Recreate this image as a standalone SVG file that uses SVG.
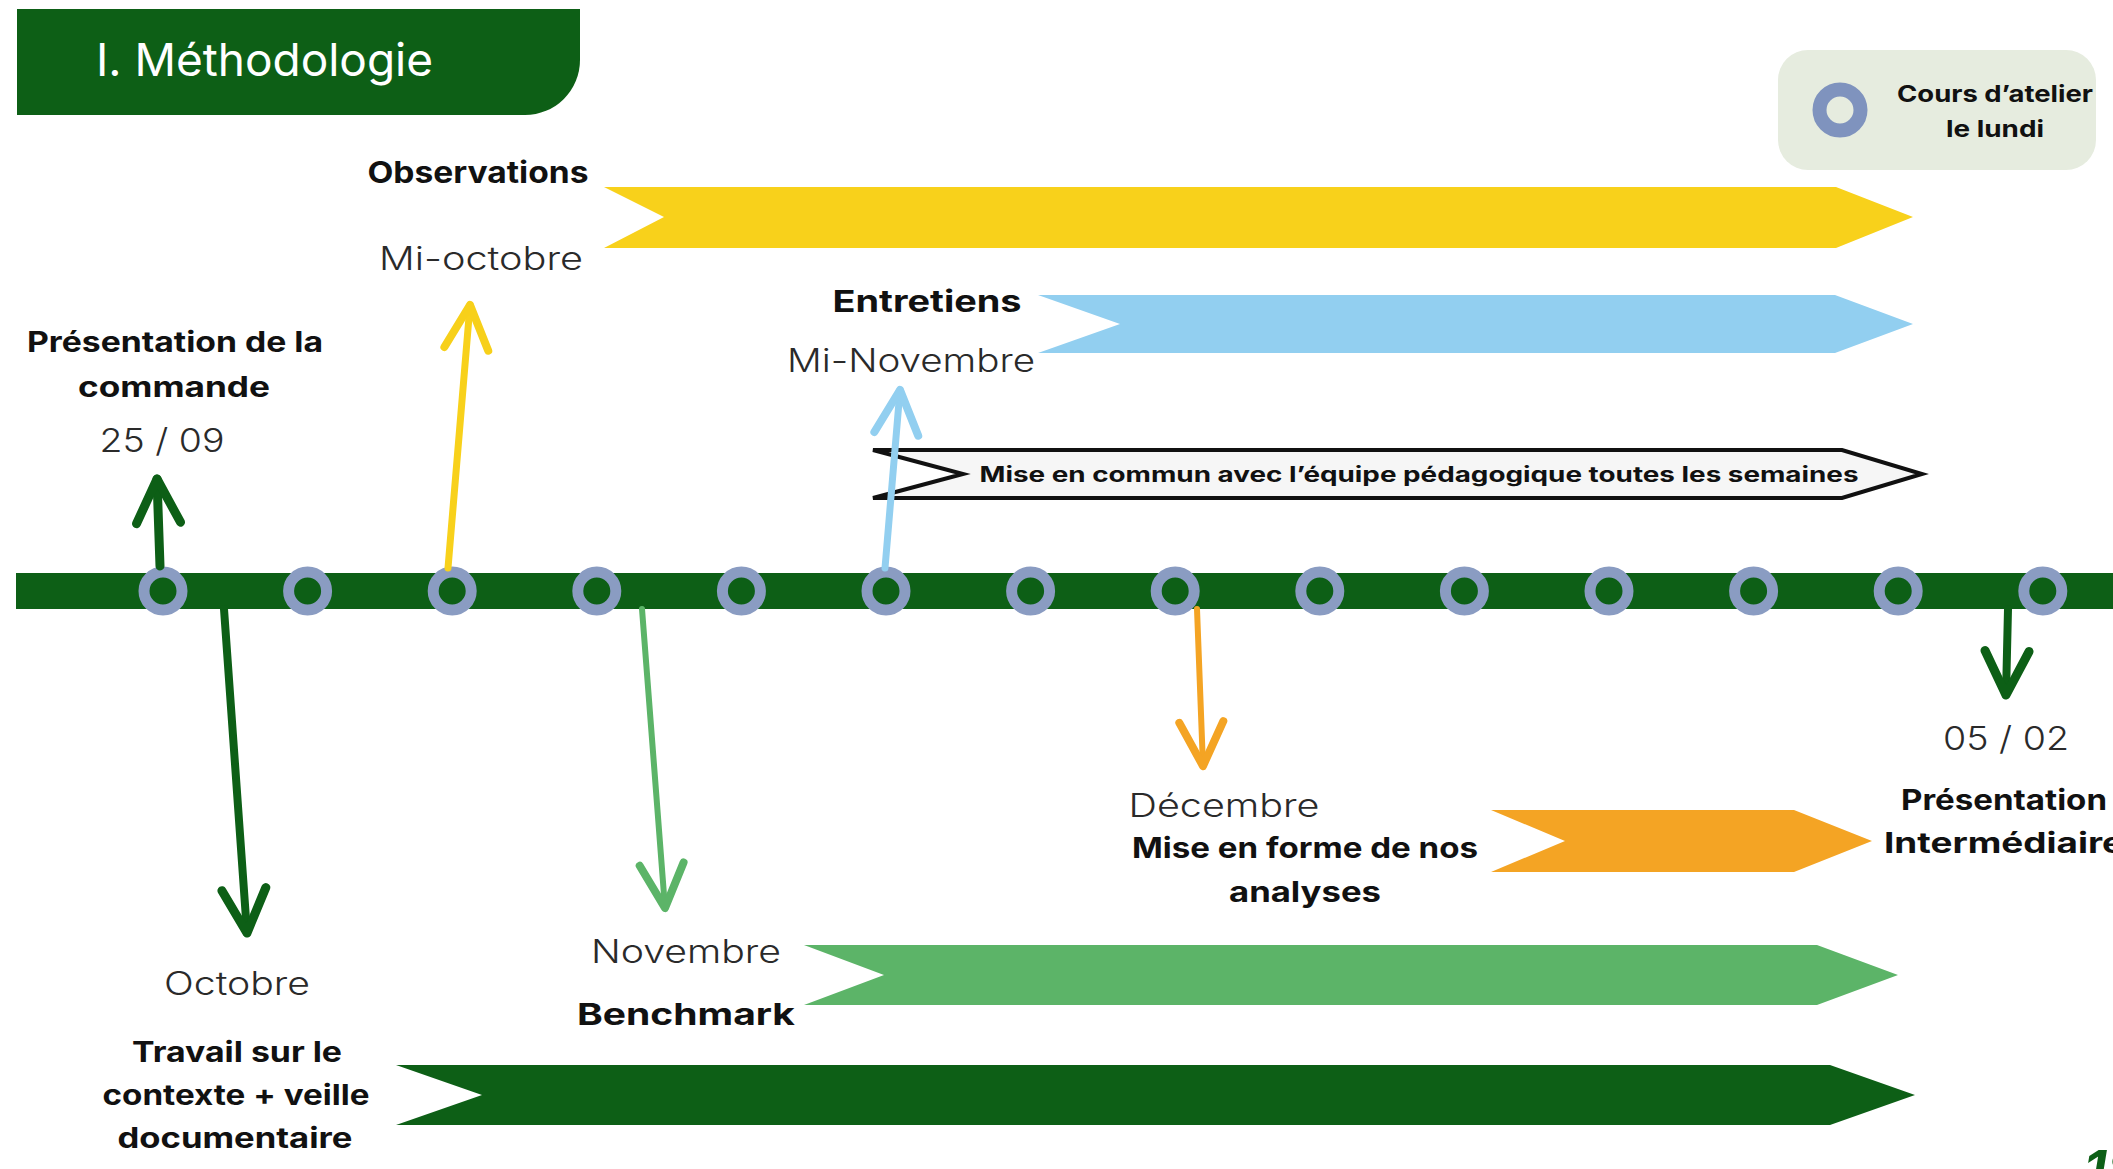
<svg xmlns="http://www.w3.org/2000/svg" width="2113" height="1169" viewBox="0 0 2113 1169">
<style>
text{font-family:Inter,"Noto Sans","Liberation Sans",sans-serif;}
.b{font-weight:700;fill:#111;}
.l{font-weight:300;fill:#2a2a2a;}
.m{text-anchor:middle;}
.ring{fill:#0d5f16;stroke:#8a9cc2;stroke-width:11;}
.con{fill:none;stroke-linecap:round;}
</style>
<defs>
<marker id="hG" markerUnits="userSpaceOnUse" viewBox="-60 -40 70 80" markerWidth="70" markerHeight="80" refX="0" refY="0" orient="auto"><path d="M-44,-22 L0,0 L-44,22" fill="none" stroke="#0d5f16" stroke-width="9" stroke-linecap="round" stroke-linejoin="round"/></marker>
<marker id="hY" markerUnits="userSpaceOnUse" viewBox="-60 -40 70 80" markerWidth="70" markerHeight="80" refX="0" refY="0" orient="auto"><path d="M-44,-22 L0,0 L-44,22" fill="none" stroke="#f7d01a" stroke-width="8" stroke-linecap="round" stroke-linejoin="round"/></marker>
<marker id="hB" markerUnits="userSpaceOnUse" viewBox="-60 -40 70 80" markerWidth="70" markerHeight="80" refX="0" refY="0" orient="auto"><path d="M-44,-22 L0,0 L-44,22" fill="none" stroke="#92cff0" stroke-width="8" stroke-linecap="round" stroke-linejoin="round"/></marker>
<marker id="hL" markerUnits="userSpaceOnUse" viewBox="-60 -40 70 80" markerWidth="70" markerHeight="80" refX="0" refY="0" orient="auto"><path d="M-44,-22 L0,0 L-44,22" fill="none" stroke="#5cb468" stroke-width="8" stroke-linecap="round" stroke-linejoin="round"/></marker>
<marker id="hO" markerUnits="userSpaceOnUse" viewBox="-60 -40 70 80" markerWidth="70" markerHeight="80" refX="0" refY="0" orient="auto"><path d="M-44,-22 L0,0 L-44,22" fill="none" stroke="#f4a424" stroke-width="8" stroke-linecap="round" stroke-linejoin="round"/></marker>
</defs>
<rect width="2113" height="1169" fill="#ffffff"/>

<g id="title">
<path d="M17,9 H580 V60 A55,55 0 0 1 525,115 H17 Z" fill="#0d5f16"/>
<text x="96" y="76" font-size="45" fill="#ffffff" textLength="337" lengthAdjust="spacingAndGlyphs">I. Méthodologie</text>
</g>

<g id="legend">
<rect x="1778" y="50" width="318" height="120" rx="30" fill="#e6ecdf"/>
<circle cx="1840" cy="110" r="20.5" fill="#e6ecdf" stroke="#7f93be" stroke-width="14"/>
<text class="b m" x="1995" y="102" font-size="23" textLength="196" lengthAdjust="spacingAndGlyphs">Cours d’atelier</text>
<text class="b m" x="1995" y="137" font-size="23" textLength="98" lengthAdjust="spacingAndGlyphs">le lundi</text>
</g>

<g id="timeline">
<rect x="16" y="573" width="2097" height="36" fill="#0d5f16"/>
<circle class="ring" cx="163" cy="591" r="19"/>
<circle class="ring" cx="307.6" cy="591" r="19"/>
<circle class="ring" cx="452.2" cy="591" r="19"/>
<circle class="ring" cx="596.8" cy="591" r="19"/>
<circle class="ring" cx="741.4" cy="591" r="19"/>
<circle class="ring" cx="886" cy="591" r="19"/>
<circle class="ring" cx="1030.6" cy="591" r="19"/>
<circle class="ring" cx="1175.2" cy="591" r="19"/>
<circle class="ring" cx="1319.8" cy="591" r="19"/>
<circle class="ring" cx="1464.4" cy="591" r="19"/>
<circle class="ring" cx="1609" cy="591" r="19"/>
<circle class="ring" cx="1753.6" cy="591" r="19"/>
<circle class="ring" cx="1898.2" cy="591" r="19"/>
<circle class="ring" cx="2042.8" cy="591" r="19"/>
</g>

<g id="observations">
<path d="M604,187 L1836,187 L1913,217 L1836,248 L604,248 L664,217 Z" fill="#f8d11b"/>
<text class="b m" x="478" y="183" font-size="30" textLength="221" lengthAdjust="spacingAndGlyphs">Observations</text>
<text class="l m" x="481" y="270" font-size="32" textLength="204" lengthAdjust="spacingAndGlyphs">Mi-octobre</text>
</g>

<g id="entretiens">
<path d="M1038,295 L1835,295 L1913,324 L1835,353 L1038,353 L1120,324 Z" fill="#92cff0"/>
<text class="b m" x="927" y="312" font-size="30" textLength="189" lengthAdjust="spacingAndGlyphs">Entretiens</text>
<text class="l m" x="911" y="372" font-size="32" textLength="248" lengthAdjust="spacingAndGlyphs">Mi-Novembre</text>
</g>

<g id="mise-en-commun">
<path d="M873,450 L1842,450 L1922,474 L1842,498 L873,498 L963,474 Z" fill="#f6f6f6" stroke="#111" stroke-width="4" stroke-linejoin="miter"/>
<text class="b m" x="1419" y="482" font-size="21" textLength="879" lengthAdjust="spacingAndGlyphs">Mise en commun avec l’équipe pédagogique toutes les semaines</text>
</g>

<g id="presentation-commande">
<text class="b m" x="175" y="352" font-size="28" textLength="296" lengthAdjust="spacingAndGlyphs">Présentation de la</text>
<text class="b m" x="174" y="397" font-size="28" textLength="192" lengthAdjust="spacingAndGlyphs">commande</text>
<text class="l m" x="162" y="452" font-size="33" textLength="125" lengthAdjust="spacingAndGlyphs">25 / 09</text>
</g>

<g id="travail-contexte">
<path d="M396,1065 L1830,1065 L1915,1095 L1830,1125 L396,1125 L482,1095 Z" fill="#0d5f16"/>
<text class="l m" x="237" y="995" font-size="32" textLength="146" lengthAdjust="spacingAndGlyphs">Octobre</text>
<text class="b m" x="237" y="1062" font-size="28" textLength="210" lengthAdjust="spacingAndGlyphs">Travail sur le</text>
<text class="b m" x="236" y="1105" font-size="28" textLength="267" lengthAdjust="spacingAndGlyphs">contexte + veille</text>
<text class="b m" x="235" y="1148" font-size="28" textLength="235" lengthAdjust="spacingAndGlyphs">documentaire</text>
</g>

<g id="benchmark">
<path d="M804,945 L1817,945 L1898,975 L1817,1005 L804,1005 L884,975 Z" fill="#5cb468"/>
<text class="l m" x="686" y="963" font-size="32" textLength="190" lengthAdjust="spacingAndGlyphs">Novembre</text>
<text class="b m" x="686" y="1025" font-size="30" textLength="218" lengthAdjust="spacingAndGlyphs">Benchmark</text>
</g>

<g id="mise-en-forme">
<path d="M1491,810 L1794,810 L1872,841 L1794,872 L1491,872 L1565,841 Z" fill="#f4a424"/>
<text class="l m" x="1224" y="817" font-size="32" textLength="191" lengthAdjust="spacingAndGlyphs">Décembre</text>
<text class="b m" x="1305" y="858" font-size="28" textLength="346" lengthAdjust="spacingAndGlyphs">Mise en forme de nos</text>
<text class="b m" x="1305" y="902" font-size="28" textLength="152" lengthAdjust="spacingAndGlyphs">analyses</text>
</g>

<g id="presentation-intermediaire">
<text class="l m" x="2006" y="750" font-size="33" textLength="126" lengthAdjust="spacingAndGlyphs">05 / 02</text>
<text class="b m" x="2004" y="810" font-size="28" textLength="206" lengthAdjust="spacingAndGlyphs">Présentation</text>
<text class="b m" x="2004" y="853" font-size="28" textLength="240" lengthAdjust="spacingAndGlyphs">Intermédiaire</text>
</g>

<g id="page-number">
<text x="2084" y="1188" font-size="52" font-weight="700" font-style="italic" fill="#0d5f16">18</text>
</g>

<g id="connectors" class="con">
<path d="M160,566 L157,479" stroke="#0d5f16" stroke-width="9" marker-end="url(#hG)"/>
<path d="M448,568 L470,305" stroke="#f8d11b" stroke-width="7" marker-end="url(#hY)"/>
<path d="M885,568 L900,390" stroke="#92cff0" stroke-width="7" marker-end="url(#hB)"/>
<path d="M224,609 L247,933" stroke="#0d5f16" stroke-width="8" marker-end="url(#hG)"/>
<path d="M642,609 L665,908" stroke="#5cb468" stroke-width="6" marker-end="url(#hL)"/>
<path d="M1197,609 L1203,766" stroke="#f4a424" stroke-width="6" marker-end="url(#hO)"/>
<path d="M2008,609 L2006,695" stroke="#0d5f16" stroke-width="8" marker-end="url(#hG)"/>
</g>
</svg>
